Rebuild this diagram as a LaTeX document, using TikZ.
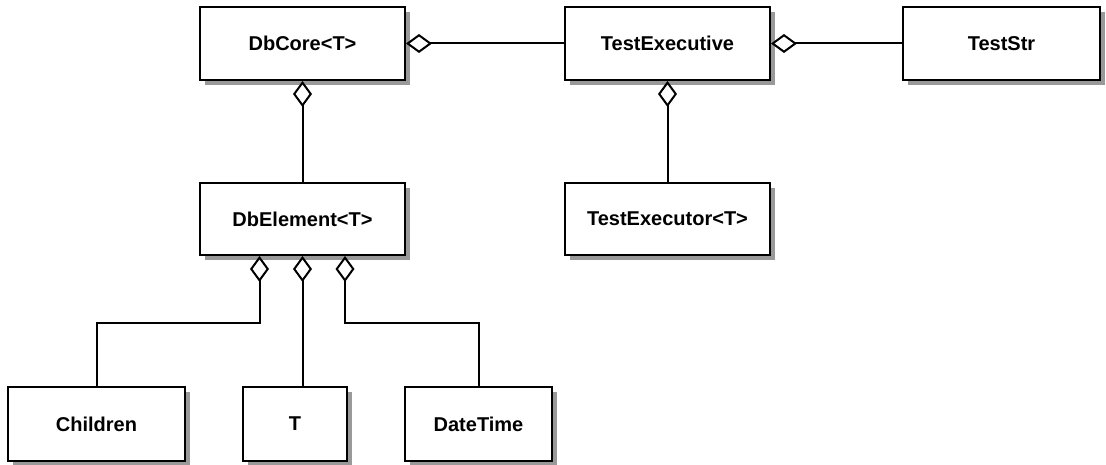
\documentclass[tikz,border=0pt]{standalone}
\usepackage{fontspec}
\setmainfont{Liberation Sans}
\usetikzlibrary{arrows.meta,shadows}
\begin{document}
\begin{tikzpicture}[x=1pt,y=-1pt,
  cls/.style={draw=black, line width=2pt, fill=white, minimum height=73pt, inner sep=0pt,
    font=\fontsize{20}{24}\selectfont\bfseries,
    drop shadow={shadow xshift=5pt, shadow yshift=-5pt, fill=black!40, opacity=1}},
  agg/.style={draw=black, line width=2pt, {Diamond[open,length=26pt,width=19pt]}-}]
\useasboundingbox (0,0) rectangle (1106,465);
\node[cls, minimum width=205pt] (core) at (302.5,43.5) {DbCore<T>};
\node[cls, minimum width=205pt] (exec) at (667.5,43.5) {TestExecutive};
\node[cls, minimum width=197pt] (str) at (1001.5,43.5) {TestStr};
\node[cls, minimum width=205pt, minimum height=72pt] (elem) at (302.5,219) {DbElement<T>};
\node[cls, minimum width=205pt, minimum height=72pt] (exor) at (667.5,219) {TestExecutor<T>};
\node[cls, minimum width=177pt, minimum height=74pt] (child) at (96.5,424) {Children};
\node[cls, minimum width=104pt, minimum height=74pt] (t) at (295,424) {T};
\node[cls, minimum width=147pt, minimum height=74pt] (dt) at (478.5,424) {DateTime};
\draw[agg] (core.east) -- (exec.west);
\draw[agg] (exec.east) -- (str.west);
\draw[agg] (core.south) -- (elem.north);
\draw[agg] (exec.south) -- (exor.north);
\draw[agg] ([xshift=-43pt]elem.south) -- ++(0,67) -| (child.north);
\draw[agg] (elem.south) -- (elem.south |- t.north);
\draw[agg] ([xshift=42.5pt]elem.south) -- ++(0,67) -| (dt.north);
\end{tikzpicture}
\end{document}
